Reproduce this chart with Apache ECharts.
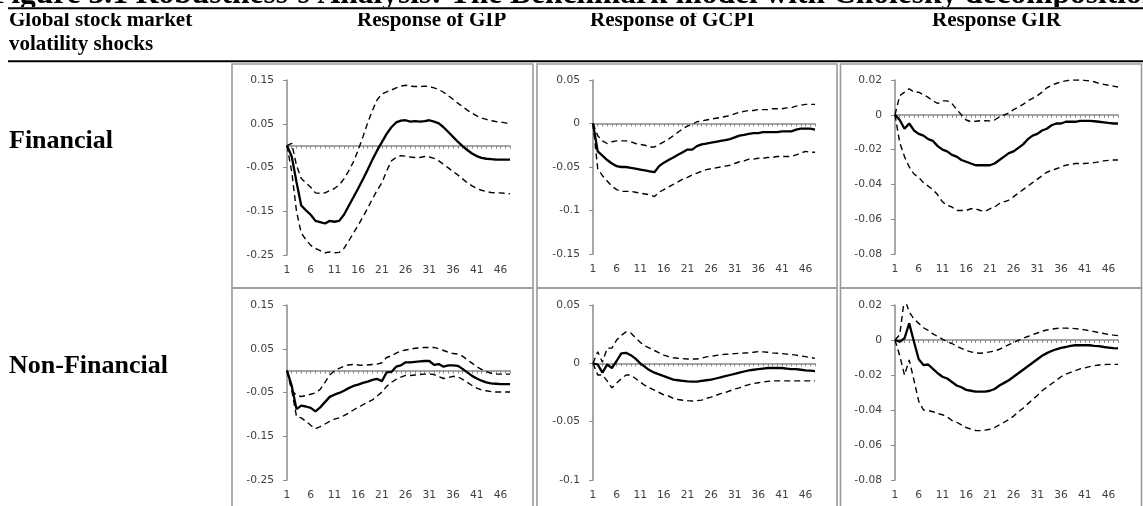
<!DOCTYPE html>
<html>
<head>
<meta charset="utf-8">
<script src="https://cdn.jsdelivr.net/npm/echarts@6/dist/echarts.min.js"></script>
<style>
html,body{margin:0;padding:0;background:#fff;}
#c{width:1143px;height:506px;}
</style>
</head>
<body>
<div id="c"></div>
<script>
// ---------------- DATA ----------------
const periods = ['1','2','3','4','5','6','7','8','9','10','11','12','13','14','15','16','17','18','19','20','21','22','23','24','25','26','27','28','29','30','31','32','33','34','35','36','37','38','39','40','41','42','43','44','45','46','47','48'];

const titleText = 'Figure 3.1 Robustness\u2019s Analysis: The Benchmark model with Cholesky decomposition';
const headerLabels = ['Response of GIP', 'Response of GCPI', 'Response GIR'];
const shockHeader = ['Global stock market', 'volatility shocks'];
const rowLabels = ['Financial', 'Non-Financial'];

const yTicksGIP = [-0.25, -0.15, -0.05, 0.05, 0.15];
const yTicksGCPIFin = [-0.15, -0.1, -0.05, 0, 0.05];
const yTicksGCPINon = [-0.1, -0.05, 0, 0.05];
const yTicksGIR = [-0.08, -0.06, -0.04, -0.02, 0, 0.02];

// Financial – GIP
const gipFinMid = [0,-0.025,-0.083,-0.137,-0.148,-0.158,-0.172,-0.175,-0.178,-0.172,
  -0.174,-0.172,-0.158,-0.138,-0.118,-0.098,-0.077,-0.055,-0.032,-0.011,
  0.008,0.027,0.042,0.053,0.057,0.058,0.055,0.056,0.055,0.056,
  0.058,0.055,0.051,0.042,0.031,0.020,0.009,-0.001,-0.010,-0.018,
  -0.024,-0.028,-0.030,-0.031,-0.032,-0.032,-0.032,-0.032];
const gipFinUp = [0,0.005,-0.045,-0.075,-0.085,-0.095,-0.108,-0.109,-0.108,-0.103,
  -0.098,-0.090,-0.076,-0.058,-0.037,-0.010,0.020,0.052,0.080,0.105,
  0.118,0.123,0.127,0.132,0.136,0.138,0.136,0.135,0.135,0.136,
  0.135,0.132,0.128,0.122,0.114,0.106,0.097,0.089,0.081,0.074,
  0.068,0.063,0.060,0.057,0.055,0.054,0.052,0.050];
const gipFinLo = [0,-0.06,-0.15,-0.2,-0.215,-0.228,-0.235,-0.24,-0.245,-0.243,
  -0.245,-0.244,-0.235,-0.218,-0.2,-0.182,-0.163,-0.143,-0.122,-0.102,
  -0.085,-0.058,-0.035,-0.027,-0.023,-0.024,-0.026,-0.027,-0.027,-0.025,
  -0.026,-0.029,-0.035,-0.043,-0.051,-0.059,-0.067,-0.076,-0.085,-0.092,
  -0.098,-0.102,-0.105,-0.107,-0.108,-0.108,-0.109,-0.110];

// Financial – GCPI
const gcpiFinMid = [0,-0.032,-0.037,-0.042,-0.046,-0.049,-0.050,-0.050,-0.051,-0.052,
  -0.053,-0.054,-0.055,-0.056,-0.049,-0.045,-0.042,-0.039,-0.036,-0.033,
  -0.030,-0.030,-0.026,-0.024,-0.023,-0.022,-0.021,-0.020,-0.019,-0.018,
  -0.016,-0.014,-0.013,-0.012,-0.011,-0.011,-0.010,-0.010,-0.010,-0.010,
  -0.009,-0.009,-0.009,-0.007,-0.006,-0.006,-0.006,-0.007];
const gcpiFinUp = [0,-0.014,-0.020,-0.023,-0.021,-0.020,-0.020,-0.020,-0.021,-0.023,
  -0.024,-0.025,-0.027,-0.027,-0.024,-0.021,-0.018,-0.014,-0.010,-0.006,
  -0.003,-0.001,0.002,0.003,0.004,0.005,0.006,0.007,0.008,0.009,
  0.011,0.013,0.014,0.015,0.015,0.016,0.016,0.016,0.017,0.017,
  0.017,0.018,0.018,0.020,0.021,0.022,0.022,0.022];
const gcpiFinLo = [0,-0.052,-0.060,-0.066,-0.072,-0.076,-0.078,-0.078,-0.078,-0.079,
  -0.080,-0.081,-0.082,-0.084,-0.079,-0.076,-0.073,-0.070,-0.067,-0.064,
  -0.062,-0.059,-0.057,-0.055,-0.053,-0.052,-0.051,-0.050,-0.049,-0.048,
  -0.046,-0.044,-0.043,-0.041,-0.041,-0.040,-0.040,-0.039,-0.039,-0.038,
  -0.038,-0.038,-0.038,-0.036,-0.034,-0.032,-0.033,-0.033];

// Financial – GIR
const girFinMid = [0,-0.003,-0.008,-0.005,-0.009,-0.011,-0.012,-0.014,-0.015,-0.018,
  -0.020,-0.021,-0.023,-0.024,-0.026,-0.027,-0.028,-0.029,-0.029,-0.029,
  -0.029,-0.028,-0.026,-0.024,-0.022,-0.021,-0.019,-0.017,-0.014,-0.012,
  -0.011,-0.009,-0.008,-0.006,-0.005,-0.005,-0.004,-0.004,-0.004,-0.0035,
  -0.0035,-0.0035,-0.0037,-0.004,-0.0043,-0.0047,-0.005,-0.005];
const girFinUp = [0,0.011,0.013,0.015,0.013,0.013,0.0115,0.010,0.008,0.0065,
  0.008,0.008,0.0065,0.003,0.0,-0.003,-0.004,-0.0037,-0.0034,-0.0034,
  -0.0035,-0.003,-0.0012,0.0,0.001,0.003,0.0045,0.006,0.008,0.0095,
  0.011,0.013,0.0155,0.017,0.018,0.019,0.0195,0.020,0.020,0.020,
  0.0198,0.0195,0.019,0.018,0.0175,0.017,0.0165,0.016];
const girFinLo = [0,-0.016,-0.024,-0.030,-0.034,-0.036,-0.039,-0.041,-0.043,-0.046,
  -0.050,-0.052,-0.053,-0.055,-0.055,-0.055,-0.054,-0.054,-0.055,-0.0555,
  -0.054,-0.053,-0.051,-0.050,-0.049,-0.047,-0.045,-0.043,-0.041,-0.039,
  -0.037,-0.035,-0.033,-0.032,-0.031,-0.030,-0.029,-0.0285,-0.028,-0.028,
  -0.028,-0.0277,-0.0275,-0.027,-0.0265,-0.0262,-0.026,-0.026];

// Non-Financial – GIP
const gipNonMid = [0,-0.035,-0.088,-0.080,-0.082,-0.085,-0.093,-0.084,-0.072,-0.060,
  -0.055,-0.051,-0.046,-0.040,-0.035,-0.032,-0.028,-0.025,-0.021,-0.019,
  -0.024,-0.004,-0.003,0.009,0.012,0.019,0.019,0.020,0.021,0.022,
  0.022,0.013,0.015,0.009,0.012,0.012,0.011,0.004,-0.004,-0.012,
  -0.018,-0.023,-0.027,-0.029,-0.030,-0.031,-0.031,-0.031];
const gipNonUp = [0,-0.045,-0.057,-0.059,-0.057,-0.054,-0.051,-0.043,-0.027,-0.010,
  0.000,0.005,0.010,0.013,0.014,0.013,0.012,0.013,0.014,0.015,
  0.018,0.030,0.034,0.040,0.045,0.047,0.049,0.051,0.052,0.053,
  0.053,0.053,0.050,0.046,0.042,0.039,0.038,0.033,0.025,0.017,
  0.009,0.003,-0.002,-0.006,-0.008,-0.008,-0.008,-0.008];
const gipNonLo = [0,-0.045,-0.105,-0.108,-0.116,-0.125,-0.133,-0.128,-0.122,-0.116,
  -0.111,-0.108,-0.103,-0.097,-0.090,-0.084,-0.078,-0.072,-0.067,-0.058,
  -0.049,-0.036,-0.027,-0.020,-0.015,-0.011,-0.011,-0.010,-0.009,-0.008,
  -0.008,-0.009,-0.014,-0.018,-0.016,-0.013,-0.014,-0.020,-0.027,-0.034,
  -0.040,-0.044,-0.046,-0.048,-0.049,-0.049,-0.049,-0.049];

// Non-Financial – GCPI
const gcpiNonMid = [0,-0.001,-0.008,-0.001,-0.004,0.002,0.0085,0.009,0.007,0.004,
  0.000,-0.003,-0.006,-0.008,-0.0095,-0.011,-0.0125,-0.014,-0.0145,-0.015,
  -0.0155,-0.0157,-0.0157,-0.015,-0.0145,-0.014,-0.013,-0.012,-0.011,-0.010,
  -0.009,-0.008,-0.007,-0.006,-0.0055,-0.005,-0.0045,-0.004,-0.004,-0.004,
  -0.004,-0.0045,-0.005,-0.005,-0.0055,-0.006,-0.0063,-0.0066];
const gcpiNonUp = [0,0.010,0.001,0.013,0.013,0.020,0.024,0.027,0.026,0.022,
  0.018,0.015,0.013,0.011,0.009,0.007,0.0057,0.0048,0.0043,0.004,
  0.0037,0.0037,0.0037,0.0045,0.0055,0.006,0.0067,0.0073,0.0078,0.008,
  0.0083,0.0086,0.0088,0.009,0.0095,0.010,0.0098,0.0095,0.009,0.0087,
  0.0083,0.0079,0.0075,0.007,0.0064,0.0057,0.005,0.0043];
const gcpiNonLo = [0,-0.010,-0.010,-0.015,-0.021,-0.017,-0.013,-0.010,-0.010,-0.013,
  -0.016,-0.019,-0.021,-0.023,-0.025,-0.027,-0.028,-0.030,-0.031,-0.0316,
  -0.032,-0.0323,-0.032,-0.0315,-0.030,-0.029,-0.0275,-0.026,-0.025,-0.0235,
  -0.022,-0.021,-0.0195,-0.0183,-0.0173,-0.0166,-0.016,-0.0155,-0.0151,-0.015,
  -0.015,-0.015,-0.015,-0.015,-0.015,-0.015,-0.015,-0.015];

// Non-Financial – GIR
const girNonMid = [0,-0.001,0.001,0.0095,-0.001,-0.011,-0.0143,-0.014,-0.0165,-0.019,
  -0.021,-0.022,-0.024,-0.026,-0.027,-0.0285,-0.029,-0.0295,-0.0295,-0.0295,
  -0.029,-0.028,-0.026,-0.0245,-0.023,-0.021,-0.019,-0.017,-0.015,-0.013,
  -0.011,-0.009,-0.0075,-0.0063,-0.0053,-0.0045,-0.004,-0.0033,-0.003,-0.003,
  -0.003,-0.003,-0.0033,-0.0035,-0.004,-0.0043,-0.0046,-0.0048];
const girNonUp = [0,0.003,0.024,0.016,0.012,0.0095,0.007,0.0055,0.0035,0.002,
  0.0005,-0.001,-0.002,-0.0035,-0.0048,-0.006,-0.0068,-0.0073,-0.0076,-0.0073,
  -0.0068,-0.0063,-0.0053,-0.004,-0.0027,-0.0014,-0.0002,0.001,0.002,0.003,
  0.004,0.005,0.0057,0.0062,0.0066,0.0068,0.0068,0.0067,0.0065,0.0062,
  0.0058,0.0053,0.0048,0.0042,0.0037,0.0032,0.0028,0.0025];
const girNonLo = [0,-0.009,-0.020,-0.0114,-0.023,-0.035,-0.040,-0.0403,-0.041,-0.042,
  -0.0427,-0.044,-0.046,-0.047,-0.0485,-0.050,-0.051,-0.0517,-0.0518,-0.0515,
  -0.051,-0.050,-0.0485,-0.047,-0.0455,-0.0435,-0.041,-0.039,-0.0365,-0.034,
  -0.0317,-0.029,-0.027,-0.025,-0.023,-0.021,-0.0195,-0.0185,-0.0175,-0.0165,
  -0.016,-0.0152,-0.0147,-0.0143,-0.014,-0.0139,-0.0139,-0.0139];

// ---------------- LAYOUT ----------------
const panels = [
  {mid: gipFinMid,  up: gipFinUp,  lo: gipFinLo,  ticks: yTicksGIP,     grid: {left: 287, top: 80,  width: 223, height: 175}},
  {mid: gcpiFinMid, up: gcpiFinUp, lo: gcpiFinLo, ticks: yTicksGCPIFin, grid: {left: 593, top: 80,  width: 222, height: 174}},
  {mid: girFinMid,  up: girFinUp,  lo: girFinLo,  ticks: yTicksGIR,     grid: {left: 895, top: 80,  width: 223, height: 174}},
  {mid: gipNonMid,  up: gipNonUp,  lo: gipNonLo,  ticks: yTicksGIP,     grid: {left: 287, top: 305, width: 223, height: 175}},
  {mid: gcpiNonMid, up: gcpiNonUp, lo: gcpiNonLo, ticks: yTicksGCPINon, grid: {left: 593, top: 305, width: 222, height: 175}},
  {mid: girNonMid,  up: girNonUp,  lo: girNonLo,  ticks: yTicksGIR,     grid: {left: 895, top: 305, width: 223, height: 175}}
];

const axisGray = '#8a8a8a';
const labelColor = '#404040';
const labelFont = 'DejaVu Sans, Verdana, sans-serif';
const serif = '"Liberation Serif", "Times New Roman", serif';

const grids = [], xAxes = [], yAxes = [], series = [];
panels.forEach((p, i) => {
  grids.push(Object.assign({containLabel: false}, p.grid));
  xAxes.push({
    type: 'category', gridIndex: i, data: periods, boundaryGap: false, position: 'bottom',
    axisLine: {show: false, onZero: false}, axisTick: {show: false}, splitLine: {show: false},
    axisLabel: {interval: 4, color: labelColor, fontFamily: labelFont, fontSize: 10.7, margin: 10}
  });
  xAxes.push({
    type: 'category', gridIndex: i, data: periods, boundaryGap: false, position: 'top',
    axisLine: {show: true, onZero: true, lineStyle: {color: axisGray, width: 1.5}},
    axisTick: {show: true, interval: 0, inside: true, length: 3, lineStyle: {color: axisGray, width: 1}},
    axisLabel: {show: false}, splitLine: {show: false}
  });
  const t = p.ticks;
  yAxes.push({
    type: 'value', gridIndex: i, min: t[0], max: t[t.length - 1],
    interval: Math.round((t[1] - t[0]) * 1000) / 1000,
    axisLine: {show: true, lineStyle: {color: axisGray, width: 1.5}},
    axisTick: {show: true, length: 4, lineStyle: {color: axisGray}},
    splitLine: {show: false},
    axisLabel: {color: labelColor, fontFamily: labelFont, fontSize: 10.7, margin: 13}
  });
  const common = {type: 'line', xAxisIndex: i * 2, yAxisIndex: i, showSymbol: false, symbol: 'none', animation: false, silent: true};
  series.push(Object.assign({}, common, {data: p.up, lineStyle: {color: '#000', width: 1.4, type: [6, 4]}, z: 3}));
  series.push(Object.assign({}, common, {data: p.lo, lineStyle: {color: '#000', width: 1.4, type: [6, 4]}, z: 3}));
  series.push(Object.assign({}, common, {data: p.mid, lineStyle: {color: '#000', width: 2.3}, z: 4}));
});

const borderColor = '#9a9a9a';
const cells = [
  [232, 64, 301, 224], [537, 64, 300, 224], [840.5, 64, 301, 224],
  [232, 288, 301, 230], [537, 288, 300, 230], [840.5, 288, 301, 230]
];
const graphic = [];
graphic.push({type: 'text', x: -8, y: 6 - 0.34 * 31.5, z: 1, style: {text: titleText, font: 'bold 31.5px ' + serif, fill: '#000', verticalAlign: 'middle'}});
graphic.push({type: 'rect', shape: {x: 0, y: 7, width: 1143, height: 6}, z: 2, style: {fill: '#fff'}});
graphic.push({type: 'line', shape: {x1: 8, y1: 8.3, x2: 1143, y2: 8.3}, z: 3, style: {stroke: '#000', lineWidth: 2}});
graphic.push({type: 'line', shape: {x1: 8, y1: 61.2, x2: 1143, y2: 61.2}, z: 3, style: {stroke: '#000', lineWidth: 2}});
const hFont = 'bold 21px ' + serif;
graphic.push({type: 'text', x: 9, y: 28 - 0.34 * 21, style: {text: shockHeader[0], font: hFont, fill: '#000', verticalAlign: 'middle'}});
graphic.push({type: 'text', x: 9, y: 52 - 0.34 * 21, style: {text: shockHeader[1], font: hFont, fill: '#000', verticalAlign: 'middle'}});
const hx = [357, 590, 932];
headerLabels.forEach((h, k) => graphic.push({type: 'text', x: hx[k], y: 28 - 0.34 * 21, style: {text: h, font: hFont, fill: '#000', verticalAlign: 'middle'}}));
const rFont = 'bold 26px ' + serif;
graphic.push({type: 'text', x: 9, y: 150 - 0.34 * 26, style: {text: rowLabels[0], font: rFont, fill: '#000', verticalAlign: 'middle'}});
graphic.push({type: 'text', x: 9, y: 375 - 0.34 * 26, style: {text: rowLabels[1], font: rFont, fill: '#000', verticalAlign: 'middle'}});
cells.forEach(c => graphic.push({type: 'rect', shape: {x: c[0], y: c[1], width: c[2], height: c[3]}, z: 1, style: {fill: 'none', stroke: borderColor, lineWidth: 1.6}}));

const chart = echarts.init(document.getElementById('c'), null, {renderer: 'canvas'});
chart.setOption({
  animation: false,
  backgroundColor: '#fff',
  grid: grids, xAxis: xAxes, yAxis: yAxes, series: series, graphic: graphic
});
</script>
</body>
</html>
